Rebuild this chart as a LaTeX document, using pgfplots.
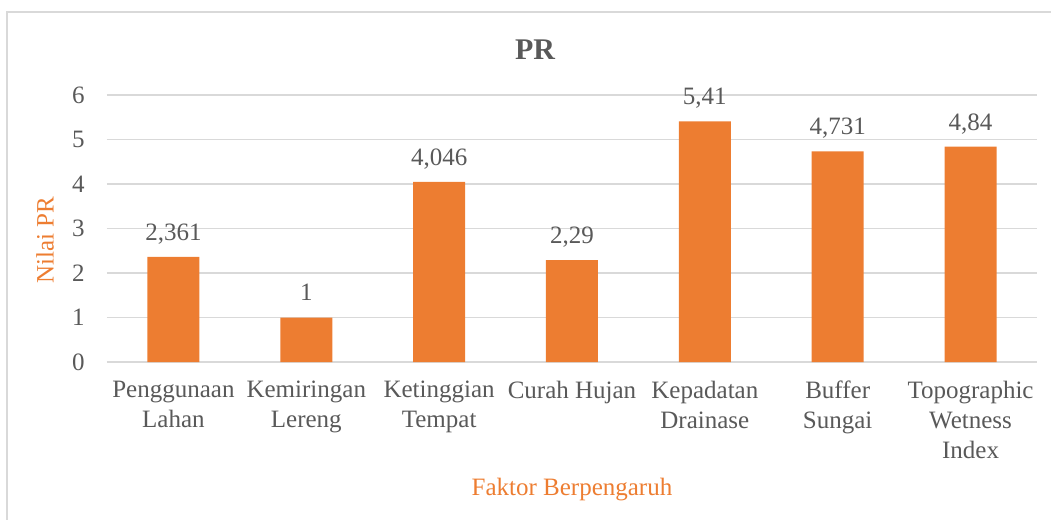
\documentclass[border=0pt]{standalone}
\usepackage{pgfplots}
\pgfplotsset{compat=1.18}
\usepackage{fontspec}
\setmainfont{Liberation Serif}
\definecolor{barorange}{HTML}{ED7D31}
\definecolor{txtgray}{HTML}{595959}
\definecolor{gridgray}{HTML}{D9D9D9}
\begin{document}
\begin{tikzpicture}
\path[use as bounding box] (0,0) rectangle (525.5pt,260pt);
\draw[gridgray, line width=0.75pt] (3.5pt,-20pt) rectangle (545pt,254pt);
\begin{axis}[
  at={(53.5pt,79pt)}, anchor=south west,
  scale only axis, width=465pt, height=133.5pt,
  ybar, bar width=26pt,
  xmin=-0.5, xmax=6.5, ymin=0, ymax=6,
  xtick={0,...,6},
  xticklabels={{Penggunaan\\Lahan},{Kemiringan\\Lereng},{Ketinggian\\Tempat},{Curah Hujan},{Kepadatan\\Drainase},{Buffer\\Sungai},{Topographic\\Wetness\\Index}},
  ytick={0,...,6},
  ymajorgrids, grid style={gridgray, line width=0.75pt},
  axis line style={draw=none}, tick style={draw=none},
  /pgf/number format/assume math mode=true,
  ticklabel style={font=\fontsize{12.5}{15}\selectfont, text=txtgray},
  xticklabel style={align=center, anchor=north, inner sep=0pt, yshift=-5pt},
  yticklabel style={anchor=east, inner sep=0pt, xshift=-11pt},
  title={PR},
  title style={font=\fontsize{15}{18}\selectfont\bfseries, text=txtgray, anchor=base, at={(0.5,1)}, yshift=12pt, xshift=-18.5pt},
  ylabel={Nilai PR},
  ylabel style={font=\fontsize{12.5}{15}\selectfont, text=barorange, at={(axis description cs:0,0.457)}, anchor=center, yshift=31pt},
  xlabel={Faktor Berpengaruh},
  xlabel style={font=\fontsize{12.5}{15}\selectfont, text=barorange, at={(axis description cs:0.5,0)}, anchor=center, yshift=-64pt},
  nodes near coords,
  nodes near coords style={font=\fontsize{12.5}{15}\selectfont, text=txtgray, anchor=base, inner sep=0pt, yshift=8.3pt, /pgf/number format/.cd, use comma, precision=3, assume math mode=true},
]
\addplot[fill=barorange, draw=none] coordinates {
  (0,2.361) (1,1) (2,4.046) (3,2.29) (4,5.41) (5,4.731) (6,4.84)
};
\end{axis}
\end{tikzpicture}
\end{document}
